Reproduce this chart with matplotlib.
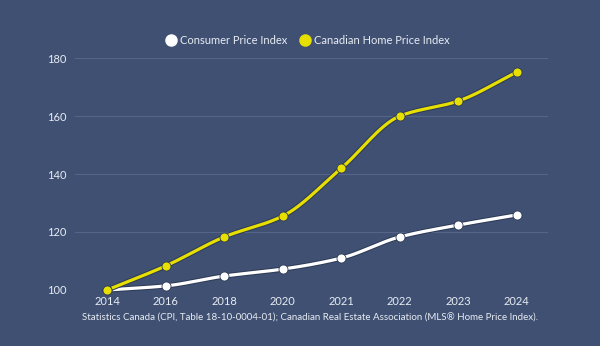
import matplotlib
matplotlib.use("Agg")
import matplotlib.pyplot as plt
import matplotlib.patheffects as pe
import numpy as np

years = ["2014", "2016", "2018", "2020", "2021", "2022", "2023", "2024"]
cpi = [100, 101.4, 104.8, 107.2, 111.0, 118.3, 122.4, 125.9]
home = [100, 108.3, 118.3, 125.5, 142.0, 160.0, 165.2, 175.2]
yticks = [100, 120, 140, 160, 180]
source = "Statistics Canada (CPI, Table 18-10-0004-01); Canadian Real Estate Association (MLS® Home Price Index)."

BG = "#3F5072"
GRID = "#55658A"
YEL = "#E6DF00"
WHITE = "#FFFFFF"
TXT = "#E8ECF3"

plt.rcParams['font.family'] = ['Lato', 'DejaVu Sans']

def pchip(x, y, n=30):
    x = np.asarray(x, float); y = np.asarray(y, float)
    h = np.diff(x); d = np.diff(y) / h
    m = np.zeros_like(y)
    for k in range(1, len(y) - 1):
        if d[k-1] * d[k] <= 0:
            m[k] = 0
        else:
            w1 = 2*h[k] + h[k-1]; w2 = h[k] + 2*h[k-1]
            m[k] = (w1 + w2) / (w1/d[k-1] + w2/d[k])
    m[0] = d[0]; m[-1] = d[-1]
    xs, ys = [], []
    for k in range(len(x) - 1):
        t = np.linspace(0, 1, n, endpoint=(k == len(x) - 2))
        h00 = 2*t**3 - 3*t**2 + 1; h10 = t**3 - 2*t**2 + t
        h01 = -2*t**3 + 3*t**2; h11 = t**3 - t**2
        xs.append(x[k] + t*h[k])
        ys.append(h00*y[k] + h10*h[k]*m[k] + h01*y[k+1] + h11*h[k]*m[k+1])
    return np.concatenate(xs), np.concatenate(ys)

fig = plt.figure(figsize=(6, 3.46), dpi=100, facecolor=BG)
ax = fig.add_axes([0.125, 0.162, 0.788, 0.670], facecolor=BG)

xi = np.arange(len(years))
shadow = [pe.Stroke(linewidth=3.8, foreground="#2E3B57"), pe.Normal()]
for vals, col, lab in [(cpi, WHITE, "Consumer Price Index"), (home, YEL, "Canadian Home Price Index")]:
    sx, sy = pchip(xi, vals)
    ax.plot(sx, sy, color=col, lw=2.3, solid_capstyle="round", zorder=3, path_effects=shadow, clip_on=False)
    ax.plot(xi, vals, 'o', color=col, ms=6.5, mec="#2E3B57", mew=0.6, zorder=4, clip_on=False)
    ax.plot([], [], 'o', color=col, ms=8, label=lab)

ax.set_xlim(-0.55, 7.53)
ax.set_ylim(100, 180)
ax.set_yticks(yticks)
ax.set_xticks(xi)
ax.set_xticklabels(years)
ax.grid(axis='y', color=GRID, lw=0.8)
ax.set_axisbelow(True)
for s in ax.spines.values():
    s.set_visible(False)
ax.tick_params(colors=TXT, labelsize=8, length=0)
ax.tick_params(axis='y', pad=6)
ax.tick_params(axis='x', pad=4)
for lbl in ax.get_xticklabels() + ax.get_yticklabels():
    lbl.set_color(TXT)

leg = fig.legend(loc="center", bbox_to_anchor=(0.513, 0.883), ncol=2, frameon=False,
                 fontsize=8, labelcolor=TXT, handletextpad=0.3, columnspacing=1.1, handlelength=1.0)

fig.text(0.517, 0.081, source, ha="center", va="center", color=TXT, fontsize=7)

fig.savefig("out.png", dpi=100, facecolor=BG)
